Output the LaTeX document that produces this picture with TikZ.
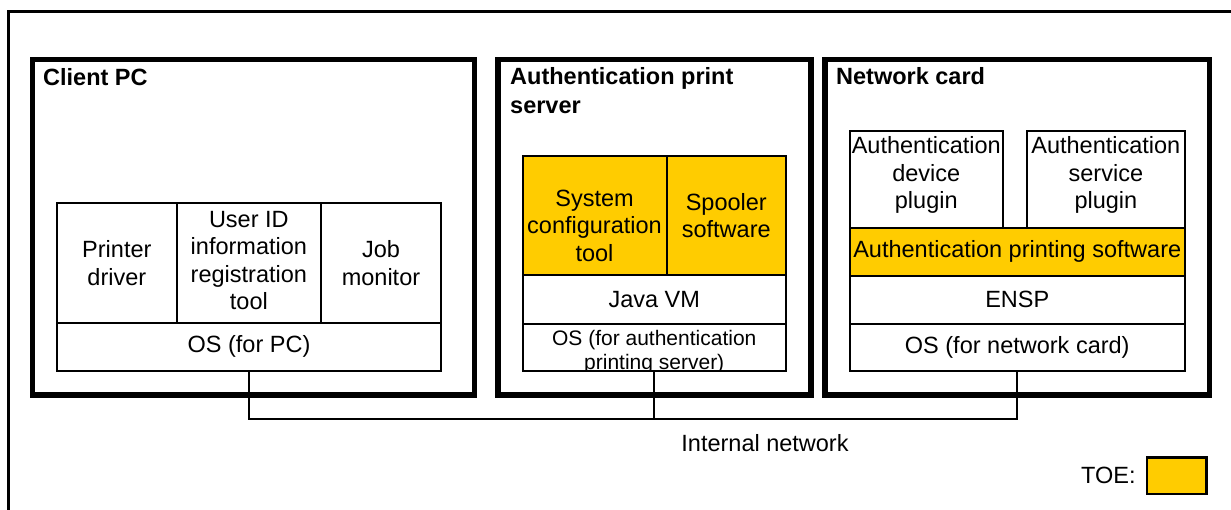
\documentclass[tikz,border=0pt]{standalone}
\usepackage{fontspec}
\setmainfont{Liberation Sans}
\definecolor{toeyellow}{HTML}{FFCC00}
\begin{document}
\begin{tikzpicture}[x=1pt,y=-1pt,
  every node/.style={font=\fontsize{23.5}{27.5}\selectfont},
  host/.style={draw,line width=5.5pt},
  frame/.style={draw,line width=3.5pt},
  cell/.style={draw,line width=2pt,inner sep=0pt,outer sep=0pt,align=center,anchor=north west},
  toe/.style={fill=toeyellow},
  title/.style={font=\fontsize{23.5}{29.5}\selectfont\bfseries,inner sep=0pt,align=left,anchor=base west},
  net/.style={draw,line width=1.6pt}]
\useasboundingbox (0,0) rectangle (1231,509);

% surrounding frame (its right and bottom sides lie outside the page)
\draw[frame] (8.7,11.3) rectangle (1260,540);

% host machines
\draw[host] (32.5,59.5) rectangle (474.5,395);
\draw[host] (498,59.5) rectangle (811,395);
\draw[host] (825,59.5) rectangle (1209.5,395);

\node[title] (tpc) at (43,85) {Client PC};
\node[title] (tsrv) at (510,113.5) {Authentication print\\server};
\node[title] (tcard) at (836,84) {Network card};

% client PC software stack
\node[cell,minimum width=119.7pt,minimum height=120pt] (c1) at (57,203) {Printer\\driver};
\node[cell,minimum width=144.3pt,minimum height=120pt,text depth=5pt] (c2) at (176.7,203) {User ID\\information\\registration\\tool};
\node[cell,minimum width=120pt,minimum height=120pt] (c3) at (321,203) {Job\\monitor};
\node[cell,minimum width=384pt,minimum height=47.5pt] (cos) at (57,323) {OS (for PC)};

% authentication print server software stack
\node[cell,toe,minimum width=144pt,minimum height=119pt,text height=91pt,text depth=0pt] (s1) at (522.5,156) {System\\configuration\\tool};
\node[cell,toe,minimum width=119.5pt,minimum height=119pt] (s2) at (666.5,156) {Spooler\\software};
\node[cell,minimum width=263.5pt,minimum height=48.7pt] (jvm) at (522.5,275) {Java VM};
\node[inner sep=0pt,outer sep=0pt,anchor=north west,minimum width=263.5pt,minimum height=47.3pt] (aos) at (522.5,323.7) {};
\begin{scope}
  \clip (aos.north west) rectangle (aos.south east);
  \node[align=center,inner sep=0pt,font=\fontsize{21}{24}\selectfont] (aostext) at ([yshift=-5pt]aos.center)
    {OS (for authentication\\printing server)};
\end{scope}
\draw[line width=2pt] (aos.north west) rectangle (aos.south east);

% network card software stack
\node[cell,minimum width=153.5pt,minimum height=96.7pt,text depth=13pt] (n1) at (849.5,131) {Authentication\\device\\plugin};
\node[cell,minimum width=158.3pt,minimum height=96.7pt,text depth=13pt] (n2) at (1026.7,131) {Authentication\\service\\plugin};
\node[cell,toe,minimum width=335.5pt,minimum height=48.3pt] (aps) at (849.5,227.7) {Authentication printing software};
\node[cell,minimum width=335.5pt,minimum height=47.7pt] (ensp) at (849.5,276) {ENSP};
\node[cell,minimum width=335.5pt,minimum height=47.3pt] (nos) at (849.5,323.7) {OS (for network card)};

% internal network
\coordinate (bus) at (0,419);
\draw[net] (cos.south) |- (nos.south |- bus) -- (nos.south);
\draw[net] (aos.south) -- (aos.south |- bus);
\node (netlabel) at (765,443) {Internal network};

% legend
\node[draw,line width=2.5pt,toe,minimum width=59.5pt,minimum height=36.5pt,inner sep=0pt] (toekey) at (1176.75,475.75) {};
\node[anchor=east,inner sep=0pt] (toelabel) at ([xshift=-10pt]toekey.west) {TOE:};
\end{tikzpicture}
\end{document}
